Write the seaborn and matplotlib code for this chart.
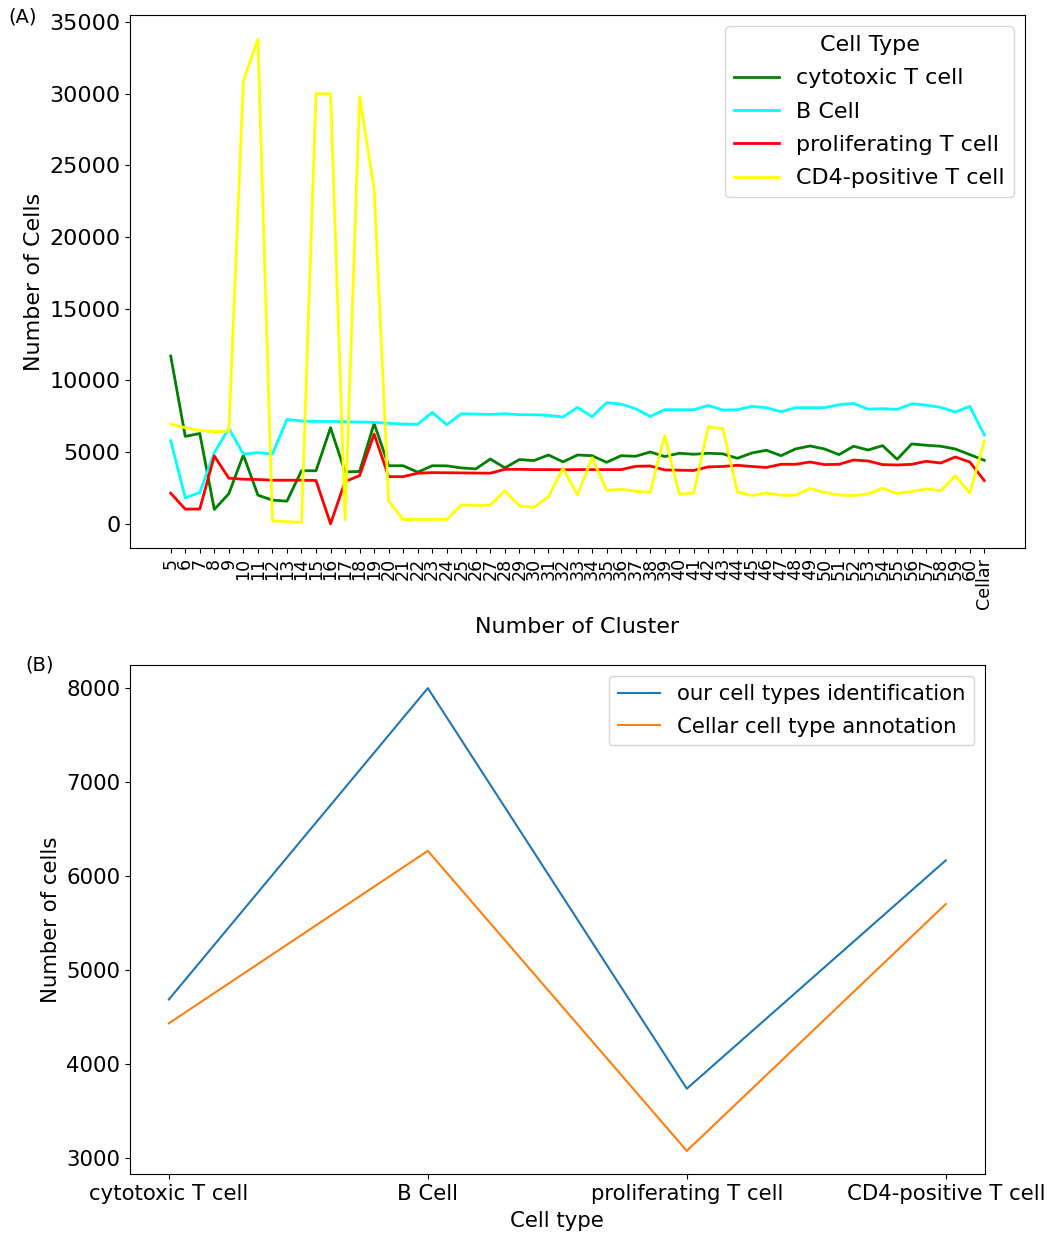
import matplotlib
matplotlib.use("Agg")
import matplotlib.pyplot as plt
import seaborn as sns
import pandas as pd

# ---------------- data ----------------
clusters = [str(c) for c in range(5, 61)] + ["Cellar"]

cytotoxic_t = [11700, 6100, 6300, 1000, 2100, 4800, 2000, 1650, 1580, 3700,
               3700, 6700, 3620, 3650, 7000, 4050, 4050, 3600, 4050, 4040,
               3900, 3830, 4520, 3900, 4480, 4410, 4800, 4320, 4800, 4750,
               4290, 4750, 4710, 5010, 4690, 4920, 4850, 4920, 4880, 4570,
               4940, 5130, 4750, 5220, 5430, 5220, 4825, 5410, 5150, 5450,
               4500, 5570, 5480, 5410, 5220, 4825, 4430]

b_cell = [5800, 1810, 2180, 4960, 6660, 4870, 4960, 4870, 7285, 7170,
          7140, 7140, 7120, 7100, 7080, 7010, 6960, 6940, 7770, 6910,
          7680, 7656, 7630, 7680, 7610, 7610, 7560, 7450, 8120, 7470,
          8445, 8350, 8030, 7490, 7960, 7960, 7960, 8260, 7940, 7960,
          8190, 8100, 7820, 8100, 8100, 8100, 8305, 8400, 8000, 8030,
          7980, 8370, 8280, 8120, 7800, 8190, 6190]

proliferating_t = [2135, 1020, 1030, 4730, 3180, 3110, 3090, 3040, 3040, 3040,
                   3020, 0, 2950, 3360, 6260, 3290, 3290, 3530, 3570, 3560,
                   3550, 3540, 3530, 3800, 3800, 3780, 3780, 3770, 3780, 3780,
                   3780, 3780, 4010, 4030, 3760, 3740, 3720, 3970, 4000, 4080,
                   4000, 3930, 4150, 4150, 4310, 4130, 4150, 4450, 4380, 4130,
                   4100, 4150, 4360, 4240, 4660, 4310, 3015]

cd4_t = [6960, 6700, 6520, 6420, 6460, 30900, 33800, 200, 150, 100,
         30000, 30000, 300, 29800, 23360, 1580, 300, 300, 300, 300,
         1320, 1275, 1300, 2300, 1250, 1140, 1900, 3870, 2020, 4615,
         2340, 2410, 2270, 2200, 6170, 2060, 2150, 6775, 6650, 2230,
         1970, 2150, 1990, 1990, 2460, 2180, 2010, 1970, 2080, 2480,
         2110, 2250, 2440, 2300, 3360, 2150, 5780]

cell_types = ["cytotoxic T cell", "B Cell", "proliferating T cell", "CD4-positive T cell"]
our_identification = [4690, 8003, 3740, 6170]
cellar_annotation = [4436, 6271, 3078, 5705]

# ---------------- tables ----------------
top_series = {"cytotoxic T cell": cytotoxic_t, "B Cell": b_cell,
              "proliferating T cell": proliferating_t, "CD4-positive T cell": cd4_t}
top_df = pd.concat([pd.DataFrame({"Cluster": clusters, "Cells": v, "Cell Type": k})
                    for k, v in top_series.items()], ignore_index=True)
top_palette = {"cytotoxic T cell": "green", "B Cell": "cyan",
               "proliferating T cell": "red", "CD4-positive T cell": "yellow"}

bot_df = pd.concat([
    pd.DataFrame({"Cell type": cell_types, "Cells": our_identification,
                  "Source": "our cell types identification"}),
    pd.DataFrame({"Cell type": cell_types, "Cells": cellar_annotation,
                  "Source": "Cellar cell type annotation"}),
], ignore_index=True)

# ---------------- figure ----------------
fig = plt.figure(figsize=(10.47, 12.34), dpi=100)
ax1 = fig.add_axes([0.1242, 0.5559, 0.8548, 0.4319])
ax2 = fig.add_axes([0.1242, 0.0486, 0.8162, 0.4125])

sns.lineplot(data=top_df, x="Cluster", y="Cells", hue="Cell Type",
             palette=top_palette, linewidth=2, errorbar=None, sort=False, ax=ax1)
ax1.set_xlabel("Number of Cluster", fontsize=16, labelpad=6)
ax1.set_ylabel("Number of Cells", fontsize=16)
ax1.tick_params(axis="x", labelrotation=90, labelsize=12.6)
ax1.tick_params(axis="y", labelsize=16)
ax1.legend(title="Cell Type", fontsize=16, title_fontsize=16, loc="upper right",
           labelspacing=0.6)

bfs = 15.3
sns.lineplot(data=bot_df, x="Cell type", y="Cells", hue="Source",
             palette=["#1f77b4", "#ff7f0e"], linewidth=1.5, errorbar=None,
             sort=False, ax=ax2)
ax2.set_xlabel("Cell type", fontsize=bfs, labelpad=5)
ax2.set_ylabel("Number of cells", fontsize=bfs)
ax2.tick_params(axis="both", labelsize=bfs)
ax2.legend(fontsize=bfs, loc="upper right", labelspacing=0.6)

fig.text(0.008, 0.986, "(A)", fontsize=14, va="center", ha="left")
fig.text(0.024, 0.461, "(B)", fontsize=14, va="center", ha="left")

fig.savefig("out.png", dpi=100)
